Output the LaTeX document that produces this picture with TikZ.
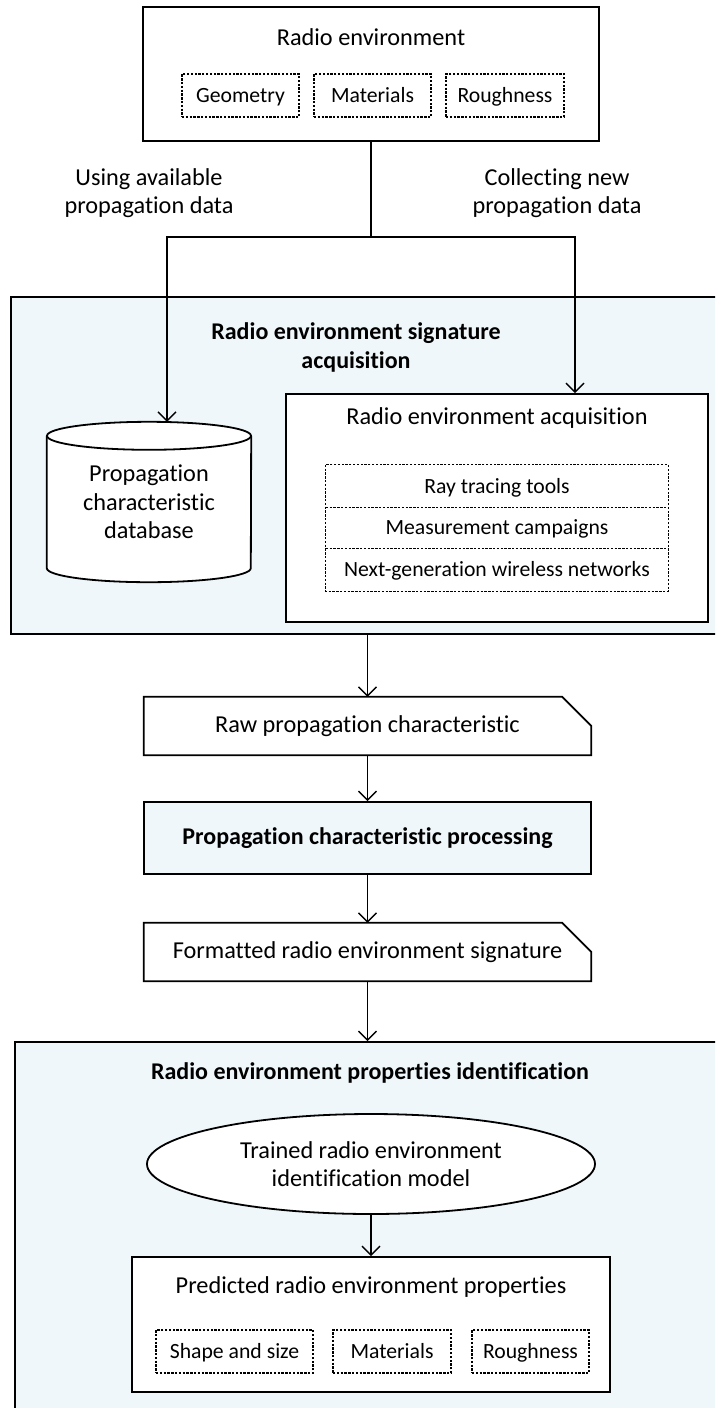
\documentclass[tikz,border=0pt]{standalone}
\usepackage{fontspec}
\setmainfont{Carlito}[Ligatures={NoCommon}]
\usetikzlibrary{arrows.meta,shapes.geometric}
\definecolor{panel}{RGB}{239,247,250}
\begin{document}
\begin{tikzpicture}[x=1pt,y=-1pt,
  lw/.style={line width=1.8pt},
  dashline/.style={line width=1.2pt, dash pattern=on 2.3pt off 1.5pt},
  box/.style={draw, lw, fill=white, align=center, inner sep=0pt},
  plain/.style={draw=none, align=center, inner sep=0pt},
  dtext/.style={align=center, inner sep=0pt, text height=17pt, text depth=3pt, font=\fontsize{21.7}{26}\selectfont},
  dbox/.style={dtext, draw, dashline},
  panelbox/.style={draw, lw, fill=panel, inner sep=0pt},
  conn/.style={line width=1.4pt},
  arr/.style={line width=1.4pt, -{Straight Barb[length=9pt,width=18pt,line width=1.4pt]}},
  txt/.style={align=center, inner sep=0pt, font=\fontsize{24.3}{28.5}\selectfont},
  btxt/.style={align=center, inner sep=0pt, font=\fontsize{24}{29}\selectfont\bfseries},
]
\useasboundingbox (0,0) rectangle (715,1408);
\clip (0,0) rectangle (715,1408);

% ---------- radio environment ----------
\node[box, minimum width=456, minimum height=134] (env) at (371,74) {};
\node[txt] (envt) at (371,37) {Radio environment};
\node[dbox, minimum width=117, minimum height=43] (geo) at (240.5,95.5) {Geometry};
\node[dbox, minimum width=117, minimum height=43] (mat) at (372.5,95.5) {Materials};
\node[dbox, minimum width=118, minimum height=43] (rough) at (505,95.5) {Roughness};

\node[txt] (lblL) at (149,193) {Using available\\propagation data};
\node[txt] (lblR) at (557,193) {Collecting new\\propagation data};

% ---------- signature acquisition panel ----------
\node[panelbox, anchor=north west, minimum width=740, minimum height=337] (sig) at (10,296) {};
\node[btxt] (sigt) at (356,347.5) {Radio environment signature\\acquisition};

% database cylinder
\node[plain, minimum width=204, minimum height=160] (db) at (149,502) {};
\fill[white] ([yshift=-14pt]db.north west) -- ([yshift=14pt]db.south west)
   arc[start angle=180, end angle=360, x radius=102pt, y radius=14pt]
   -- ([yshift=-14pt]db.north east) -- cycle;
\draw[lw] ([yshift=-14pt]db.north west) -- ([yshift=14pt]db.south west)
   arc[start angle=180, end angle=360, x radius=102pt, y radius=14pt]
   -- ([yshift=-14pt]db.north east);
\draw[lw, fill=white] ([yshift=-14pt]db.north) ellipse[x radius=102pt, y radius=14pt];
\node[txt] (dbt) at (149,502) {Propagation\\characteristic\\database};

% acquisition box with its dashed list of sources
\node[box, minimum width=422, minimum height=228] (acq) at (497,508) {};
\node[txt] (acqt) at (497,418) {Radio environment acquisition};
\node[dtext, minimum width=342, minimum height=42] (ray) at (497,486) {Ray tracing tools};
\node[dtext, minimum width=342, minimum height=41] (meas) at (497,527.5) {Measurement campaigns};
\node[dtext, minimum width=342, minimum height=43] (nextg) at (497,569.5) {Next-generation wireless networks};
\draw[dashline] (ray.north west) rectangle (nextg.south east);
\draw[dashline] (ray.south west) -- (ray.south east);
\draw[dashline] (meas.south west) -- (meas.south east);

% branching connectors
\coordinate (junc) at (371,237);
\draw[conn] (env.south) -- (junc);
\draw[arr] (junc) -| ([xshift=18pt]db.north);
\draw[arr] (junc) -| ([xshift=78pt]acq.north);

% ---------- processing chain ----------
\node[plain, minimum width=447, minimum height=58] (raw) at (367.5,726) {};
\draw[lw] (raw.north west) -- ([xshift=-29pt]raw.north east) -- ([yshift=-29pt]raw.north east)
   -- (raw.south east) -- (raw.south west) -- cycle;
\node[txt] at (raw.center) {Raw propagation characteristic};

\node[panelbox, minimum width=447, minimum height=72] (proc) at (367.5,838) {};
\node[btxt] at (proc.center) {Propagation characteristic processing};

\node[plain, minimum width=447, minimum height=58] (fmt) at (367.5,952) {};
\draw[lw] (fmt.north west) -- ([xshift=-29pt]fmt.north east) -- ([yshift=-29pt]fmt.north east)
   -- (fmt.south east) -- (fmt.south west) -- cycle;
\node[txt] at (fmt.center) {Formatted radio environment signature};

\draw[arr] (sig.south -| raw.north) -- (raw.north);
\draw[arr] (raw.south) -- (proc.north);
\draw[arr] (proc.south) -- (fmt.north);

% ---------- identification panel ----------
\node[panelbox, anchor=north west, minimum width=740, minimum height=400] (idp) at (14,1041) {};
\draw[arr] (fmt.south) -- (fmt.south |- idp.north);
\node[btxt] (idt) at (370,1073) {Radio environment properties identification};

\node[draw, lw, fill=white, ellipse, inner sep=0pt, minimum width=448, minimum height=100] (model) at (371,1164) {};
\node[txt] at (model.center) {Trained radio environment\\identification model};

\node[box, minimum width=478, minimum height=135] (pred) at (371,1324.5) {};
\node[txt] (predt) at (371,1287) {Predicted radio environment properties};
\node[dbox, minimum width=157, minimum height=43] (shape) at (234.5,1351.5) {Shape and size};
\node[dbox, minimum width=118, minimum height=43] (mat2) at (392,1351.5) {Materials};
\node[dbox, minimum width=117, minimum height=43] (rough2) at (530.5,1351.5) {Roughness};

\draw[arr] (model.south) -- (pred.north);
\end{tikzpicture}
\end{document}
